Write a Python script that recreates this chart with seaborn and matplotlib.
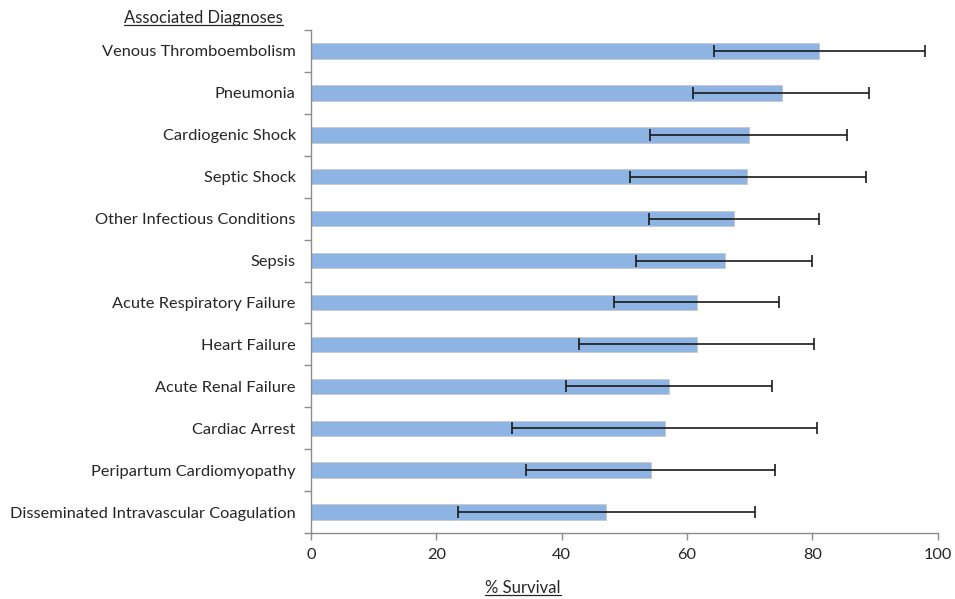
import matplotlib
matplotlib.use("Agg")
import matplotlib.pyplot as plt
import seaborn as sns
import pandas as pd
import numpy as np
from matplotlib.lines import Line2D

categories = [
    "Venous Thromboembolism",
    "Pneumonia",
    "Cardiogenic Shock",
    "Septic Shock",
    "Other Infectious Conditions",
    "Sepsis",
    "Acute Respiratory Failure",
    "Heart Failure",
    "Acute Renal Failure",
    "Cardiac Arrest",
    "Peripartum Cardiomyopathy",
    "Disseminated Intravascular Coagulation",
]
survival = [81.1, 75.1, 69.9, 69.6, 67.5, 66.0, 61.6, 61.6, 57.1, 56.5, 54.3, 47.1]
ci_low = [64.3, 60.9, 54.1, 50.9, 53.9, 51.9, 48.3, 42.8, 40.7, 32.1, 34.3, 23.5]
ci_high = [97.9, 89.1, 85.5, 88.5, 81.1, 80.0, 74.7, 80.2, 73.6, 80.7, 74.0, 70.9]
x_ticks = [0, 20, 40, 60, 80, 100]

sns.set_style("white")
plt.rcParams["font.family"] = ["Lato", "DejaVu Sans"]

df = pd.DataFrame({"Diagnosis": categories, "Survival": survival})

fig = plt.figure(figsize=(9.55, 5.99), dpi=100)
ax = fig.add_axes([0.3257, 0.110, 0.6563, 0.840])

sns.barplot(data=df, y="Diagnosis", x="Survival", orient="h", color="#8EB4E3",
            saturation=1, width=0.37, edgecolor="#c8c8c8", linewidth=0.6, ax=ax)

ypos = np.arange(len(categories))
surv = np.array(survival)
xerr = np.vstack([surv - np.array(ci_low), np.array(ci_high) - surv])
ax.errorbar(surv, ypos, xerr=xerr, fmt="none", ecolor="#1a1a1a", elinewidth=1.2,
            capsize=4, capthick=1.2)

ax.set_xlim(0, 100)
ax.set_ylim(len(categories) - 0.5, -0.5)
ax.set_xticks(x_ticks)
ax.set_xticklabels([str(t) for t in x_ticks])
ax.set_xlabel("")
ax.set_ylabel("")

for s in ["top", "right"]:
    ax.spines[s].set_visible(False)
for s in ["left", "bottom"]:
    ax.spines[s].set_color("#8c8c8c")
    ax.spines[s].set_linewidth(1.0)

ax.tick_params(axis="y", which="major", left=False, length=0, pad=11, labelsize=11.8,
               labelcolor="#262626")
ax.set_yticks(np.arange(-0.5, len(categories), 1.0), minor=True)
ax.tick_params(axis="y", which="minor", left=True, length=5, width=1.0, color="#8c8c8c",
               direction="out")
ax.tick_params(axis="x", which="major", bottom=True, length=5, width=1.0, color="#8c8c8c",
               direction="out", labelsize=11.8, labelcolor="#262626", pad=6)

t1 = fig.text(283 / 955, 1 - 18 / 599, "Associated Diagnoses", ha="right", va="center",
              fontsize=12, color="#262626")
t2 = fig.text(523 / 955, 1 - 588 / 599, "% Survival", ha="center", va="center",
              fontsize=12, color="#262626")

fig.canvas.draw()
r = fig.canvas.get_renderer()
for t in (t1, t2):
    bb = t.get_window_extent(renderer=r).transformed(fig.transFigure.inverted())
    y = bb.y0 + 0.002
    fig.add_artist(Line2D([bb.x0, bb.x1], [y, y], transform=fig.transFigure,
                          color="#262626", linewidth=0.9))

fig.savefig("out.png", dpi=100)
